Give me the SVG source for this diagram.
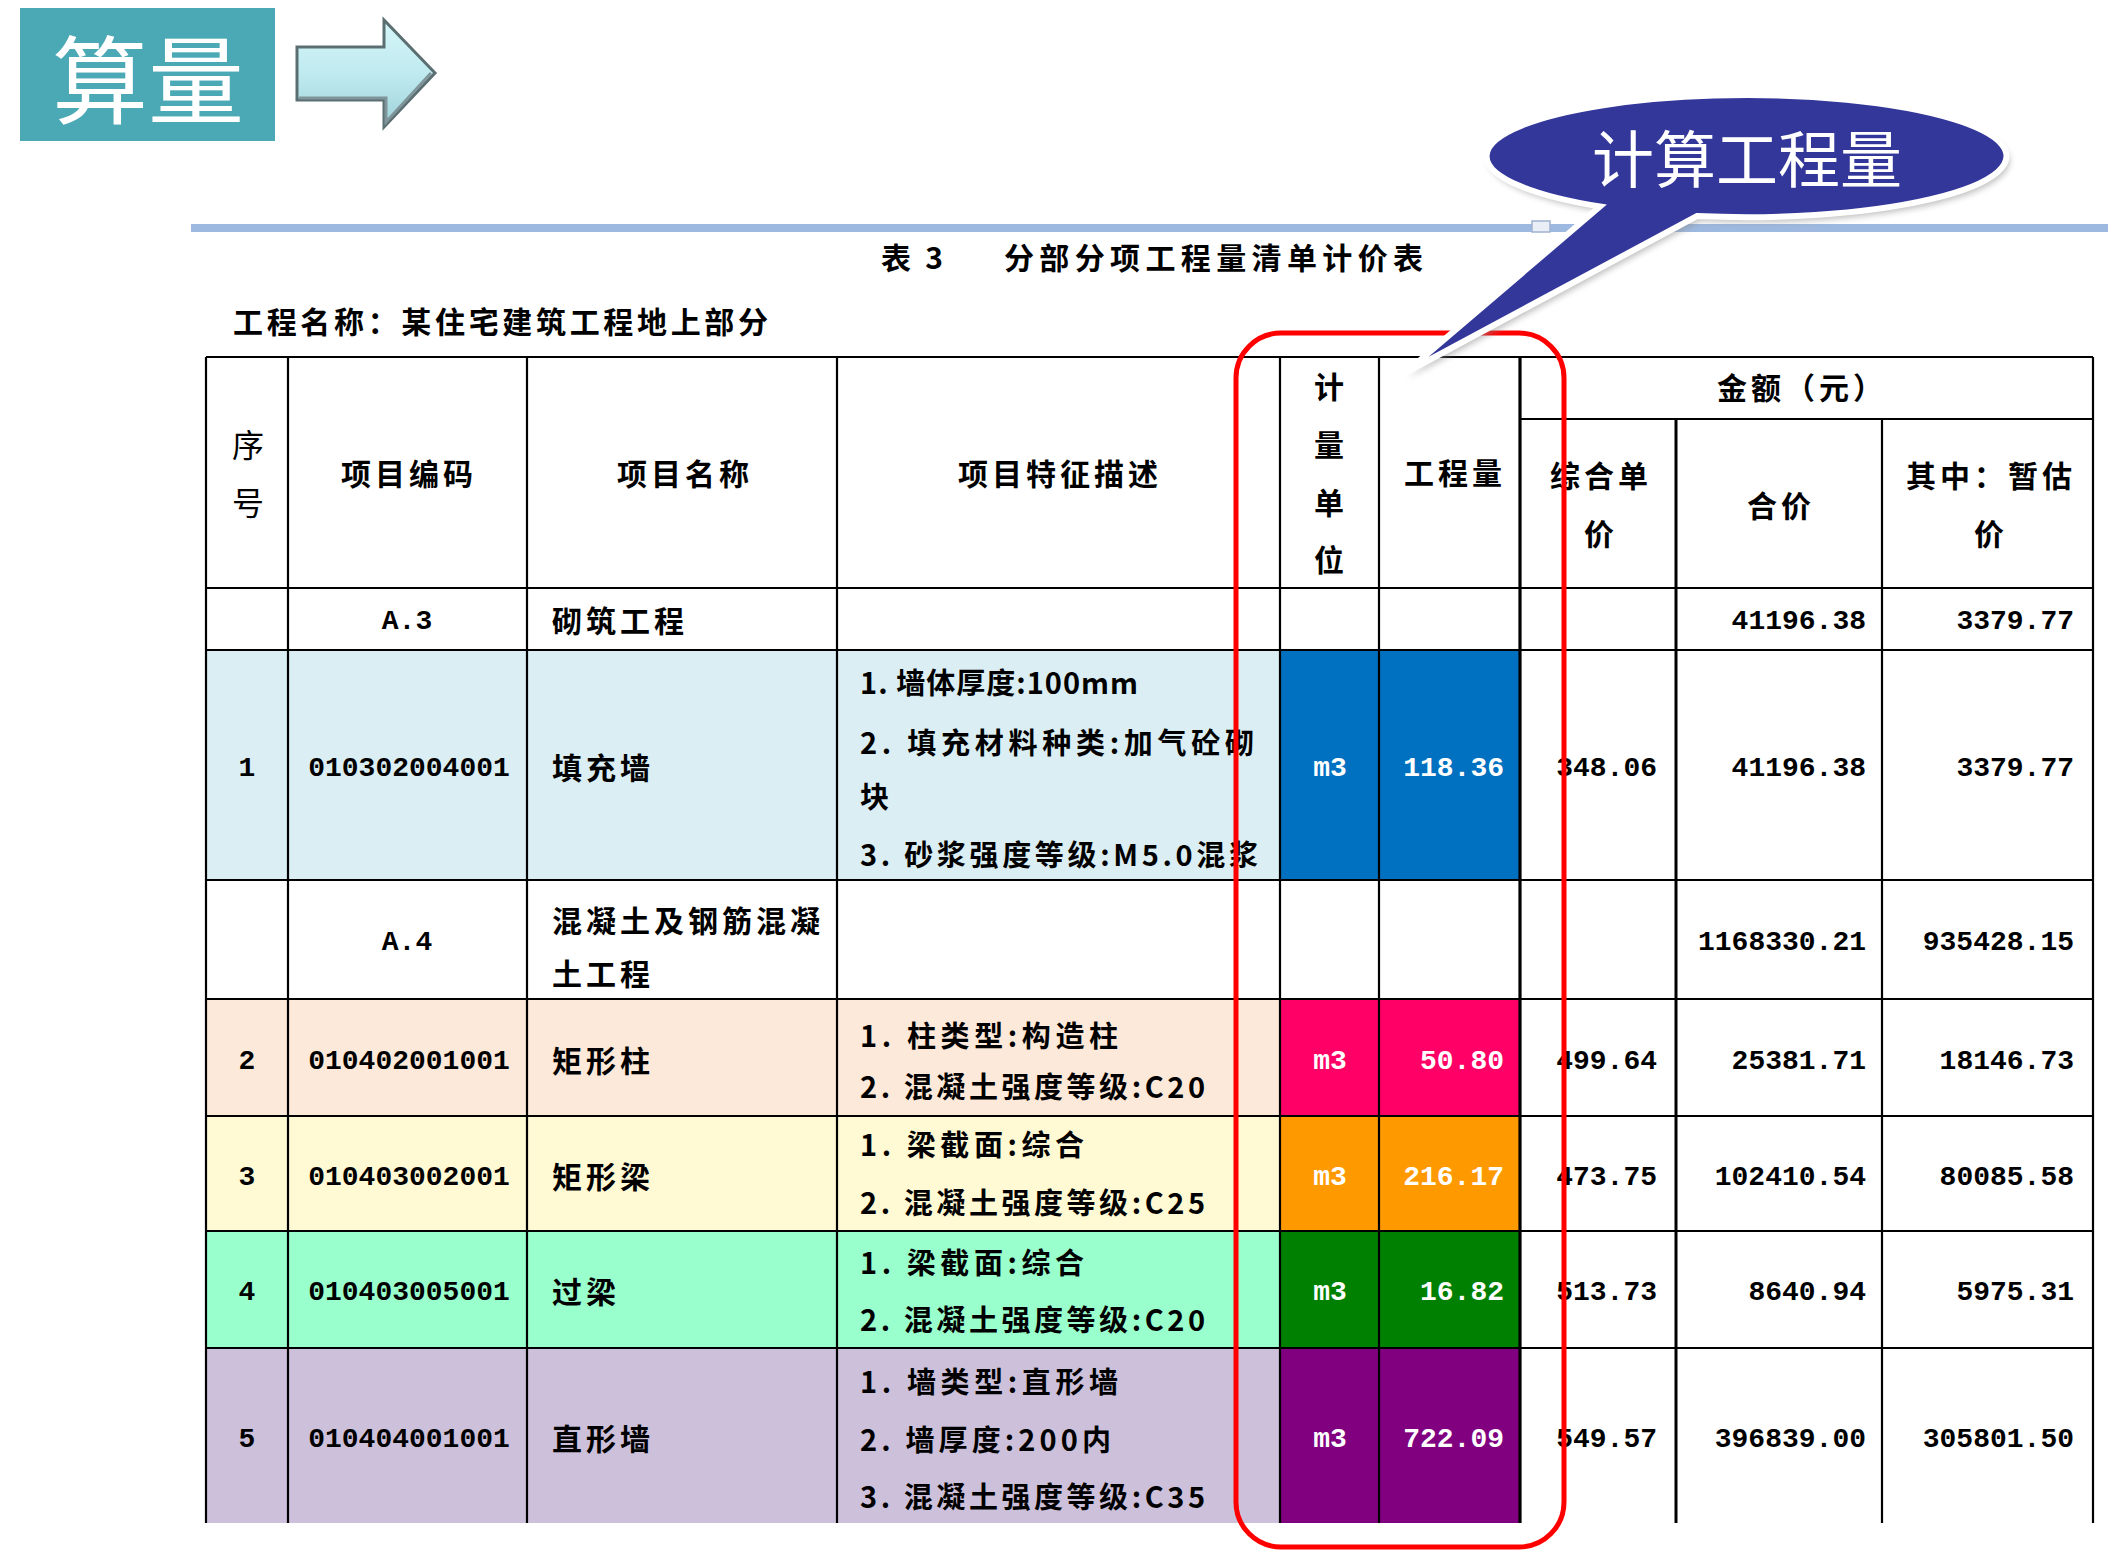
<svg xmlns="http://www.w3.org/2000/svg" width="2128" height="1557" viewBox="0 0 2128 1557">
<style>
  text { font-family: "Noto Sans CJK SC", sans-serif; }
  .b { font-weight: bold; fill: #000; }
  .h { font-size: 30px; font-weight: bold; letter-spacing: 4px; }
  .n { font-size: 30px; font-weight: bold; letter-spacing: 4px; }
  .d { font-size: 29px; font-weight: bold; }
  .num { font-family: "Liberation Mono", monospace; font-size: 28px; font-weight: bold; }
  .w { fill: #ffffff; }
  .grid line { stroke: #000; stroke-width: 2.2; }
  .mid { text-anchor: middle; }
  .end { text-anchor: end; }
</style>
<defs>
  <linearGradient id="arrowGrad" x1="0" y1="0" x2="0" y2="1">
    <stop offset="0" stop-color="#d6f6f8"/>
    <stop offset="0.5" stop-color="#bfeaf0"/>
    <stop offset="1" stop-color="#9fd3da"/>
  </linearGradient>
  <filter id="blur" x="-10%" y="-10%" width="120%" height="120%">
    <feGaussianBlur stdDeviation="3"/>
  </filter>
</defs>
<rect width="2128" height="1557" fill="#ffffff"/>

<!-- Title block -->
<g id="title-box">
  <rect x="20" y="8" width="255" height="133" fill="#4aa9b4"/>
  <text x="148" y="74" class="w mid" font-size="96" dominant-baseline="central">算量</text>
</g>
<g id="title-arrow">
  <polygon points="297,47 384,47 384,20 435,73 384,127 384,100 297,100" fill="url(#arrowGrad)" stroke="#5b6e72" stroke-width="3" stroke-linejoin="miter"/>
  <polyline points="299,98 386,98 386,122 431,73" fill="none" stroke="#7f9599" stroke-width="3"/>
</g>

<!-- Blue rule -->
<rect x="191" y="224" width="1917" height="8" fill="#9db9df"/>
<rect x="1532" y="221" width="18" height="11" fill="#e9eef7" stroke="#9fb2d0" stroke-width="1.5"/>

<g id="caption">
  <text x="881" y="256" class="b" font-size="30" dominant-baseline="central" textLength="62" lengthAdjust="spacing">表 3</text>
  <text x="1004" y="256" class="b" font-size="30" dominant-baseline="central" textLength="419" lengthAdjust="spacing">分部分项工程量清单计价表</text>
  <text x="233" y="320" class="b" font-size="30" dominant-baseline="central" textLength="535" lengthAdjust="spacing">工程名称：某住宅建筑工程地上部分</text>
</g>

<!-- Row backgrounds -->
<g id="row-fills">
  <rect x="206" y="650" width="1074" height="230" fill="#daeef3"/>
  <rect x="1280" y="650" width="240" height="230" fill="#0070c0"/>
  <rect x="206" y="999" width="1074" height="117" fill="#fde9d9"/>
  <rect x="1280" y="999" width="240" height="117" fill="#ff0066"/>
  <rect x="206" y="1116" width="1074" height="115" fill="#fff9d4"/>
  <rect x="1280" y="1116" width="240" height="115" fill="#ff9900"/>
  <rect x="206" y="1231" width="1074" height="117" fill="#99ffcc"/>
  <rect x="1280" y="1231" width="240" height="117" fill="#008000"/>
  <rect x="206" y="1348" width="1074" height="175" fill="#ccc0da"/>
  <rect x="1280" y="1348" width="240" height="175" fill="#800080"/>
</g>

<!-- Grid -->
<g id="connectors" class="grid">
  <line x1="206" y1="357" x2="2093" y2="357"/>
  <line x1="1520" y1="419" x2="2093" y2="419"/>
  <line x1="206" y1="588" x2="2093" y2="588"/>
  <line x1="206" y1="650" x2="2093" y2="650"/>
  <line x1="206" y1="880" x2="2093" y2="880"/>
  <line x1="206" y1="999" x2="2093" y2="999"/>
  <line x1="206" y1="1116" x2="2093" y2="1116"/>
  <line x1="206" y1="1231" x2="2093" y2="1231"/>
  <line x1="206" y1="1348" x2="2093" y2="1348"/>
  <line x1="206" y1="357" x2="206" y2="1523"/>
  <line x1="288" y1="357" x2="288" y2="1523"/>
  <line x1="527" y1="357" x2="527" y2="1523"/>
  <line x1="837" y1="357" x2="837" y2="1523"/>
  <line x1="1280" y1="357" x2="1280" y2="1523"/>
  <line x1="1379" y1="357" x2="1379" y2="1523"/>
  <line x1="1520" y1="357" x2="1520" y2="1523" style="stroke-width:3.2"/>
  <line x1="1676" y1="419" x2="1676" y2="1523" style="stroke-width:3"/>
  <line x1="1882" y1="419" x2="1882" y2="1523"/>
  <line x1="2093" y1="357" x2="2093" y2="1523"/>
</g>

<!-- Header -->
<g id="header" dominant-baseline="central">
  <text x="248" y="443" class="mid" font-size="32">序</text>
  <text x="248" y="501" class="mid" font-size="32">号</text>
  <text x="409" y="472" class="h mid">项目编码</text>
  <text x="685" y="472" class="h mid">项目名称</text>
  <text x="1060" y="472" class="h mid">项目特征描述</text>
  <text x="1331" y="385" class="h mid">计</text>
  <text x="1331" y="443" class="h mid">量</text>
  <text x="1331" y="501" class="h mid">单</text>
  <text x="1331" y="558" class="h mid">位</text>
  <text x="1455" y="471" class="h mid">工程量</text>
  <text x="1802" y="386" class="h mid">金额（元）</text>
  <text x="1601" y="474" class="h mid">综合单</text>
  <text x="1601" y="532" class="h mid">价</text>
  <text x="1781" y="504" class="h mid">合价</text>
  <text x="1991" y="474" class="h mid">其中：暂估</text>
  <text x="1991" y="532" class="h mid">价</text>
</g>

<!-- A.3 -->
<g id="row-a3" dominant-baseline="central">
  <text x="407" y="621" class="num mid">A.3</text>
  <text x="552" y="619" class="n">砌筑工程</text>
  <text x="1866" y="621" class="num end">41196.38</text>
  <text x="2074" y="621" class="num end">3379.77</text>
</g>

<!-- Row 1 -->
<g id="row-1" dominant-baseline="central">
  <text x="247" y="768" class="num mid">1</text>
  <text x="409" y="768" class="num mid">010302004001</text>
  <text x="552" y="766" class="n">填充墙</text>
  <text x="860" y="681" class="d" textLength="278" lengthAdjust="spacing">1. 墙体厚度:100mm</text>
  <text x="860" y="741" class="d" textLength="394" lengthAdjust="spacing">2. 填充材料种类:加气砼砌</text>
  <text x="860" y="795" class="d">块</text>
  <text x="860" y="853" class="d" textLength="398" lengthAdjust="spacing">3. 砂浆强度等级:M5.0混浆</text>
  <text x="1330" y="768" class="num mid w">m3</text>
  <text x="1504" y="768" class="num end w">118.36</text>
  <text x="1657" y="768" class="num end">348.06</text>
  <text x="1866" y="768" class="num end">41196.38</text>
  <text x="2074" y="768" class="num end">3379.77</text>
</g>

<!-- A.4 -->
<g id="row-a4" dominant-baseline="central">
  <text x="407" y="942" class="num mid">A.4</text>
  <text x="552" y="919" class="n">混凝土及钢筋混凝</text>
  <text x="552" y="972" class="n">土工程</text>
  <text x="1866" y="942" class="num end">1168330.21</text>
  <text x="2074" y="942" class="num end">935428.15</text>
</g>

<!-- Row 2 -->
<g id="row-2" dominant-baseline="central">
  <text x="247" y="1061" class="num mid">2</text>
  <text x="409" y="1061" class="num mid">010402001001</text>
  <text x="552" y="1059" class="n">矩形柱</text>
  <text x="860" y="1034" class="d" textLength="258" lengthAdjust="spacing">1. 柱类型:构造柱</text>
  <text x="860" y="1085" class="d" textLength="345" lengthAdjust="spacing">2. 混凝土强度等级:C20</text>
  <text x="1330" y="1061" class="num mid w">m3</text>
  <text x="1504" y="1061" class="num end w">50.80</text>
  <text x="1657" y="1061" class="num end">499.64</text>
  <text x="1866" y="1061" class="num end">25381.71</text>
  <text x="2074" y="1061" class="num end">18146.73</text>
</g>

<!-- Row 3 -->
<g id="row-3" dominant-baseline="central">
  <text x="247" y="1177" class="num mid">3</text>
  <text x="409" y="1177" class="num mid">010403002001</text>
  <text x="552" y="1175" class="n">矩形梁</text>
  <text x="860" y="1143" class="d" textLength="224" lengthAdjust="spacing">1. 梁截面:综合</text>
  <text x="860" y="1201" class="d" textLength="345" lengthAdjust="spacing">2. 混凝土强度等级:C25</text>
  <text x="1330" y="1177" class="num mid w">m3</text>
  <text x="1504" y="1177" class="num end w">216.17</text>
  <text x="1657" y="1177" class="num end">473.75</text>
  <text x="1866" y="1177" class="num end">102410.54</text>
  <text x="2074" y="1177" class="num end">80085.58</text>
</g>

<!-- Row 4 -->
<g id="row-4" dominant-baseline="central">
  <text x="247" y="1292" class="num mid">4</text>
  <text x="409" y="1292" class="num mid">010403005001</text>
  <text x="552" y="1290" class="n">过梁</text>
  <text x="860" y="1261" class="d" textLength="224" lengthAdjust="spacing">1. 梁截面:综合</text>
  <text x="860" y="1318" class="d" textLength="345" lengthAdjust="spacing">2. 混凝土强度等级:C20</text>
  <text x="1330" y="1292" class="num mid w">m3</text>
  <text x="1504" y="1292" class="num end w">16.82</text>
  <text x="1657" y="1292" class="num end">513.73</text>
  <text x="1866" y="1292" class="num end">8640.94</text>
  <text x="2074" y="1292" class="num end">5975.31</text>
</g>

<!-- Row 5 -->
<g id="row-5" dominant-baseline="central">
  <text x="247" y="1439" class="num mid">5</text>
  <text x="409" y="1439" class="num mid">010404001001</text>
  <text x="552" y="1437" class="n">直形墙</text>
  <text x="860" y="1380" class="d" textLength="258" lengthAdjust="spacing">1. 墙类型:直形墙</text>
  <text x="860" y="1438" class="d" textLength="251" lengthAdjust="spacing">2. 墙厚度:200内</text>
  <text x="860" y="1495" class="d" textLength="345" lengthAdjust="spacing">3. 混凝土强度等级:C35</text>
  <text x="1330" y="1439" class="num mid w">m3</text>
  <text x="1504" y="1439" class="num end w">722.09</text>
  <text x="1657" y="1439" class="num end">549.57</text>
  <text x="1866" y="1439" class="num end">396839.00</text>
  <text x="2074" y="1439" class="num end">305801.50</text>
</g>

<!-- Red highlight -->
<g id="highlight">
  <rect x="1236" y="333" width="328" height="1214" rx="45" ry="45" fill="none" stroke="#ff0000" stroke-width="5"/>
</g>

<!-- Callout bubble -->
<g id="callout">
  <path d="M 1600 206.5 L 1405 373 L 1697 216 A 260 61 0 1 0 1600 206.5 Z" transform="translate(3,5)" fill="#8a8a8a" opacity="0.55" filter="url(#blur)"/>
  <path d="M 1600 206.5 L 1405 373 L 1697 216 A 260 61 0 1 0 1600 206.5 Z" fill="#34379a" stroke="#ffffff" stroke-width="6" stroke-linejoin="miter"/>
  <text x="1747" y="156" class="w mid" font-size="62" dominant-baseline="central">计算工程量</text>
</g>
</svg>
